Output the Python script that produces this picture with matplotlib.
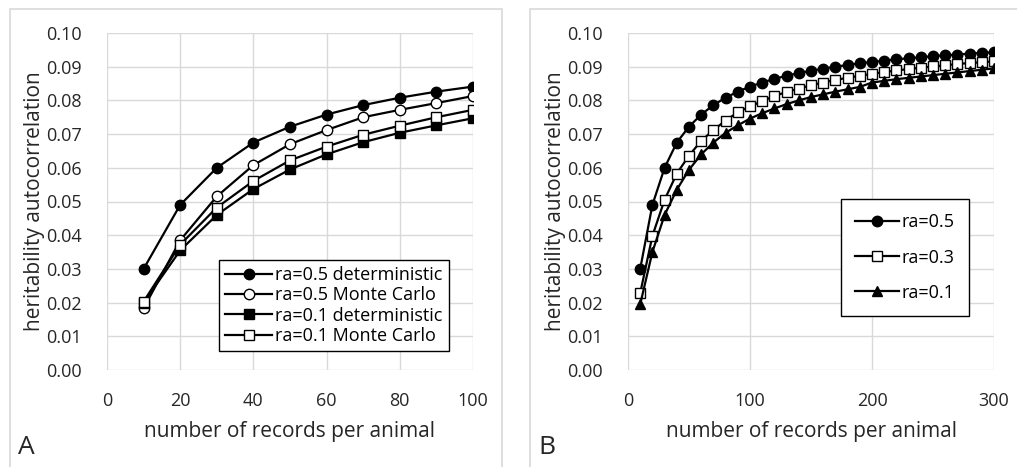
import matplotlib
matplotlib.use("Agg")
import matplotlib.pyplot as plt
from matplotlib.patches import Rectangle

# ── Data ────────────────────────────────────────────────────
x_a = [10, 20, 30, 40, 50, 60, 70, 80, 90, 100]
a_05_det = [0.0300, 0.0490, 0.0600, 0.0675, 0.0722, 0.0758, 0.0786, 0.0808, 0.0826, 0.0841]
a_05_mc  = [0.0183, 0.0385, 0.0515, 0.0608, 0.0670, 0.0712, 0.0750, 0.0772, 0.0792, 0.0813]
a_01_det = [0.0200, 0.0355, 0.0460, 0.0537, 0.0595, 0.0640, 0.0676, 0.0704, 0.0726, 0.0747]
a_01_mc  = [0.0203, 0.0372, 0.0482, 0.0561, 0.0622, 0.0663, 0.0698, 0.0725, 0.0750, 0.0772]

x_b = [10, 20, 30, 40, 50, 60, 70, 80, 90, 100,
       110, 120, 130, 140, 150, 160, 170, 180, 190, 200,
       210, 220, 230, 240, 250, 260, 270, 280, 290, 300]
b_05 = [0.0300, 0.0490, 0.0600, 0.0675, 0.0722, 0.0758, 0.0786, 0.0808, 0.0826, 0.0841,
        0.0853, 0.0864, 0.0873, 0.0881, 0.0888, 0.0894, 0.0900, 0.0905, 0.0910, 0.0914,
        0.0918, 0.0922, 0.0925, 0.0928, 0.0931, 0.0934, 0.0936, 0.0939, 0.0941, 0.0943]
b_03 = [0.0228, 0.0398, 0.0505, 0.0583, 0.0636, 0.0680, 0.0712, 0.0740, 0.0765, 0.0782,
        0.0798, 0.0813, 0.0825, 0.0835, 0.0845, 0.0853, 0.0861, 0.0867, 0.0873, 0.0879,
        0.0884, 0.0889, 0.0893, 0.0897, 0.0901, 0.0904, 0.0908, 0.0911, 0.0913, 0.0916]
b_01 = [0.0195, 0.0350, 0.0460, 0.0535, 0.0594, 0.0640, 0.0675, 0.0704, 0.0726, 0.0746,
        0.0762, 0.0776, 0.0789, 0.0800, 0.0810, 0.0818, 0.0826, 0.0833, 0.0840, 0.0853,
        0.0858, 0.0863, 0.0867, 0.0871, 0.0875, 0.0879, 0.0883, 0.0887, 0.0891, 0.0895]

y_ticks = [0.00, 0.01, 0.02, 0.03, 0.04, 0.05, 0.06, 0.07, 0.08, 0.09, 0.10]

# ── Style ───────────────────────────────────────────────────
plt.rcParams["font.family"] = ["Open Sans", "DejaVu Sans"]
W, H = 1017, 467
GRID = "#d9d9d9"
TXT = "#262626"

fig = plt.figure(figsize=(W / 100, H / 100), dpi=100)
fig.patch.set_facecolor("white")


def px_axes(x0, y0, x1, y1):
    # pixel box (top-left origin) -> figure fraction axes
    return fig.add_axes([x0 / W, (H - y1) / H, (x1 - x0) / W, (y1 - y0) / H])


# panel frames
for fx0, fx1 in ((10, 502), (530, 1030)):
    fig.patches.append(Rectangle((fx0 / W, -0.02), (fx1 - fx0) / W, (H - 9) / H + 0.02,
                                 transform=fig.transFigure, fill=False,
                                 edgecolor=GRID, linewidth=1.2))


def style_axes(ax, xmax, xstep):
    ax.set_xlim(0, xmax)
    ax.set_ylim(0, 0.10)
    ax.set_xticks(range(0, xmax + 1, xstep))
    ax.set_yticks(y_ticks)
    ax.set_yticklabels([f"{v:.2f}" for v in y_ticks])
    ax.grid(True, color=GRID, linewidth=1.0)
    ax.set_axisbelow(True)
    for s in ax.spines.values():
        s.set_visible(False)
    ax.tick_params(length=0, labelsize=13, colors=TXT, pad=18)
    ax.tick_params(axis="x", pad=16)
    ax.set_ylabel("heritability autocorrelation", fontsize=15, color=TXT, labelpad=1)
    ax.set_xlabel("number of records per animal", fontsize=15, color=TXT, labelpad=8)


line_kw = dict(color="black", linewidth=1.6, markeredgecolor="black",
               markeredgewidth=1.0, markersize=7.5)

# ── Panel A ─────────────────────────────────────────────────
axA = px_axes(107, 33, 473, 370)
style_axes(axA, 100, 20)
axA.plot(x_a, a_05_det, marker="o", markerfacecolor="black", label="ra=0.5 deterministic", **line_kw)
axA.plot(x_a, a_05_mc, marker="o", markerfacecolor="white", label="ra=0.5 Monte Carlo", **line_kw)
axA.plot(x_a, a_01_det, marker="s", markerfacecolor="black", label="ra=0.1 deterministic", **line_kw)
axA.plot(x_a, a_01_mc, marker="s", markerfacecolor="white", label="ra=0.1 Monte Carlo", **line_kw)
legA = axA.legend(loc="upper left", bbox_to_anchor=(219 / W, (H - 260) / H),
                  bbox_transform=fig.transFigure, fontsize=13, frameon=True,
                  fancybox=False, framealpha=1, edgecolor="black",
                  handlelength=2.6, handletextpad=0.15, labelspacing=0.12,
                  borderpad=0.35, borderaxespad=0)
legA.get_frame().set_linewidth(1.0)

# ── Panel B ─────────────────────────────────────────────────
axB = px_axes(628, 33, 994, 370)
style_axes(axB, 300, 100)
axB.plot(x_b, b_05, marker="o", markerfacecolor="black", label="ra=0.5", **line_kw)
axB.plot(x_b, b_03, marker="s", markerfacecolor="white", label="ra=0.3", **line_kw)
axB.plot(x_b, b_01, marker="^", markerfacecolor="black", label="ra=0.1", **line_kw)
legB = axB.legend(loc="upper left", bbox_to_anchor=(841 / W, (H - 199) / H),
                  bbox_transform=fig.transFigure, fontsize=13, frameon=True,
                  fancybox=False, framealpha=1, edgecolor="black",
                  handlelength=2.4, handletextpad=0.15, labelspacing=0.95,
                  borderpad=0.8, borderaxespad=0)
legB.get_frame().set_linewidth(1.0)

# panel letters
fig.text(18 / W, (H - 447) / H, "A", fontsize=19, color=TXT, va="center", ha="left")
fig.text(538 / W, (H - 447) / H, "B", fontsize=19, color=TXT, va="center", ha="left")

fig.savefig("out.png", dpi=100, facecolor="white")
